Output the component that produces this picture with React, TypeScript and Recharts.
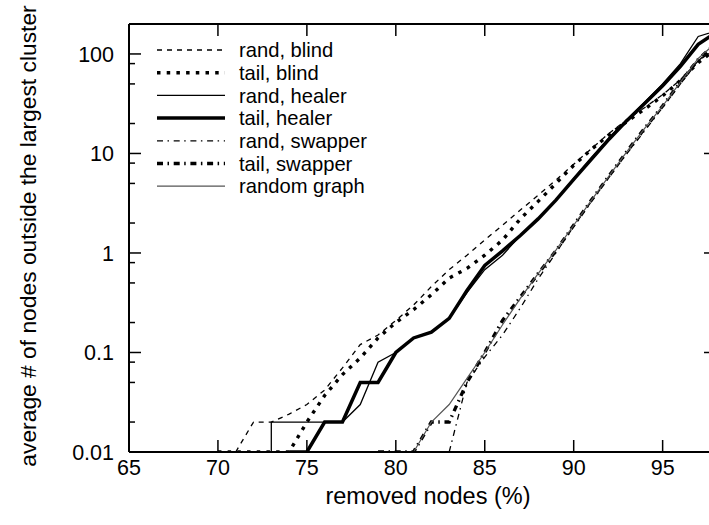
import React from 'react';
import { LineChart, Line, XAxis, YAxis } from 'recharts';

const FONT = '"Liberation Sans", Arial, Helvetica, sans-serif';

const X_TICKS = [65, 70, 75, 80, 85, 90, 95];
const Y_MAJOR = [0.01, 0.1, 1, 10, 100];
const Y_MINOR = [0.02, 0.05, 0.08, 0.2, 0.5, 0.8, 2, 5, 8, 20, 50, 80];
const Y_TICKS = [...Y_MAJOR, ...Y_MINOR].sort((a, b) => a - b);

// [removed %, avg nodes outside the largest cluster]
const randBlind: [number, number][] = [
  [71, 0.01], [72, 0.02], [73, 0.02], [74, 0.024], [75, 0.03], [76, 0.042], [77, 0.07], [78, 0.12],
  [79, 0.15], [80, 0.21], [81, 0.3], [82, 0.46], [83, 0.68], [84, 0.95], [85, 1.35], [86, 1.9],
  [87, 2.7], [88, 3.8], [89, 5.4], [90, 7.8], [91, 11.2], [92, 16], [93, 22], [94, 29], [95, 39],
  [96, 55], [97, 85], [98, 115],
];
const tailBlind: [number, number][] = [
  [70, 0.01], [71, 0.01], [72, 0.01], [73, 0.01], [74, 0.01], [75, 0.02], [76, 0.037], [77, 0.06],
  [78, 0.088], [79, 0.14], [80, 0.2], [81, 0.27], [82, 0.38], [83, 0.56], [84, 0.7], [85, 0.95],
  [86, 1.35], [87, 2.2], [88, 3.3], [89, 5.0], [90, 7.6], [91, 11], [92, 15.5], [93, 21], [94, 28],
  [95, 38], [96, 54], [97, 82], [98, 112],
];
const randHealer: [number, number][] = [
  [73, 0.01], [73, 0.02], [74, 0.02], [75, 0.02], [76, 0.02], [77, 0.02], [78, 0.03], [79, 0.08],
  [80, 0.1], [81, 0.14], [82, 0.16], [83, 0.22], [84, 0.4], [85, 0.68], [86, 0.95], [87, 1.5],
  [88, 2.2], [89, 3.4], [90, 5.6], [91, 9], [92, 14.5], [93, 22], [94, 33], [95, 50], [96, 80],
  [97, 150], [98, 170],
];
const tailHealer: [number, number][] = [
  [74, 0.01], [75, 0.01], [76, 0.02], [77, 0.02], [78, 0.05], [79, 0.05], [80, 0.1], [81, 0.14],
  [82, 0.16], [83, 0.22], [84, 0.42], [85, 0.75], [86, 1.05], [87, 1.5], [88, 2.2], [89, 3.4],
  [90, 5.5], [91, 8.8], [92, 14], [93, 21.5], [94, 32], [95, 48], [96, 75], [97, 125], [98, 165],
];
const randSwapper: [number, number][] = [
  [83, 0.01], [84, 0.05], [85, 0.09], [86, 0.15], [87, 0.28], [88, 0.55], [89, 1.0], [90, 1.85],
  [91, 3.3], [92, 5.8], [93, 10], [94, 17], [95, 29], [96, 50], [97, 85], [98, 125],
];
const tailSwapper: [number, number][] = [
  [79, 0.01], [80, 0.01], [81, 0.01], [82, 0.02], [83, 0.02], [84, 0.05], [85, 0.1], [86, 0.21],
  [87, 0.36], [88, 0.62], [89, 1.05], [90, 1.9], [91, 3.4], [92, 6], [93, 10.5], [94, 18], [95, 30],
  [96, 52], [97, 88], [98, 128],
];
const randomGraph: [number, number][] = [
  [81, 0.01], [82, 0.02], [83, 0.03], [84, 0.055], [85, 0.1], [86, 0.19], [87, 0.35], [88, 0.62],
  [89, 1.07], [90, 1.9], [91, 3.4], [92, 6], [93, 10.5], [94, 18], [95, 30], [96, 52], [97, 90],
  [98, 130],
];

const toPoints = (arr: [number, number][]) => arr.map(([x, y]) => ({ x, y }));

const SERIES = [
  { name: 'rand, blind', data: randBlind, width: 1.3, dash: '5 5', color: '#000' },
  { name: 'tail, blind', data: tailBlind, width: 3.4, dash: '3.5 6.2', color: '#000' },
  { name: 'rand, healer', data: randHealer, width: 1.3, dash: undefined, color: '#000' },
  { name: 'tail, healer', data: tailHealer, width: 3.5, dash: undefined, color: '#000' },
  { name: 'rand, swapper', data: randSwapper, width: 1.3, dash: '6 4.5 1.5 4.7', color: '#000' },
  { name: 'tail, swapper', data: tailSwapper, width: 3.4, dash: '6 4.5 1.5 4.7', color: '#000' },
  { name: 'random graph', data: randomGraph, width: 1.2, dash: undefined, color: '#555' },
];

const TICK_STROKE = { stroke: '#000', strokeWidth: 1.5 };
const AXIS_LINE = { stroke: '#000', strokeWidth: 2 };

const BottomTick = ({ x, y, payload }: any) => (
  <g>
    <line x1={x} y1={y} x2={x} y2={y - 12} {...TICK_STROKE} />
    <text x={x} y={y + 23} textAnchor="middle" fontSize={21.5} fontFamily={FONT} fill="#000">
      {payload.value}
    </text>
  </g>
);

const TopTick = ({ x, y }: any) => (
  <line x1={x} y1={y} x2={x} y2={y + 12} {...TICK_STROKE} />
);

const LeftTick = ({ x, y, payload }: any) => {
  const major = Y_MAJOR.includes(payload.value);
  return (
    <g>
      <line x1={x} y1={y} x2={x + (major ? 12 : 6)} y2={y} {...TICK_STROKE} />
      {major && (
        <text x={x - 15} y={y} dy="0.36em" textAnchor="end" fontSize={21.5} fontFamily={FONT} fill="#000">
          {String(payload.value)}
        </text>
      )}
    </g>
  );
};

const RightTick = ({ x, y, payload }: any) => {
  const major = Y_MAJOR.includes(payload.value);
  return <line x1={x} y1={y} x2={x - (major ? 12 : 6)} y2={y} {...TICK_STROKE} />;
};

export default function App() {
  return (
    <div
      style={{
        position: 'absolute',
        left: 0,
        top: 0,
        width: 709,
        height: 525,
        overflow: 'hidden',
        background: '#fff',
      }}
    >
      <LineChart width={726} height={525} margin={{ top: 0, right: 0, bottom: 0, left: 0 }}>
        <XAxis
          xAxisId="b"
          type="number"
          dataKey="x"
          domain={[65, 98]}
          ticks={X_TICKS}
          interval={0}
          allowDataOverflow
          height={73}
          tickSize={0}
          tickMargin={0}
          tick={BottomTick}
          axisLine={AXIS_LINE}
        />
        <XAxis
          xAxisId="t"
          orientation="top"
          type="number"
          dataKey="x"
          domain={[65, 98]}
          ticks={X_TICKS}
          interval={0}
          allowDataOverflow
          height={24}
          tickSize={0}
          tickMargin={0}
          tick={TopTick}
          axisLine={AXIS_LINE}
        />
        <YAxis
          yAxisId="l"
          type="number"
          scale="log"
          domain={[0.01, 200]}
          ticks={Y_TICKS}
          interval={0}
          allowDataOverflow
          width={129}
          tickSize={0}
          tickMargin={0}
          tick={LeftTick}
          axisLine={AXIS_LINE}
        />
        <YAxis
          yAxisId="r"
          orientation="right"
          type="number"
          scale="log"
          domain={[0.01, 200]}
          ticks={Y_TICKS}
          interval={0}
          allowDataOverflow
          width={10}
          tickSize={0}
          tickMargin={0}
          tick={RightTick}
          axisLine={AXIS_LINE}
        />
        {SERIES.map((s) => (
          <Line
            key={s.name}
            xAxisId="b"
            yAxisId="l"
            data={toPoints(s.data)}
            dataKey="y"
            name={s.name}
            type="linear"
            stroke={s.color}
            strokeWidth={s.width}
            strokeDasharray={s.dash}
            dot={false}
            activeDot={false}
            isAnimationActive={false}
          />
        ))}
      </LineChart>
      <svg
        width={709}
        height={525}
        style={{ position: 'absolute', left: 0, top: 0, pointerEvents: 'none' }}
        fontFamily={FONT}
        fontSize={23.5}
      >
        {SERIES.map((s, i) => (
          <g key={s.name}>
            <line
              x1={157}
              x2={225}
              y1={50 + i * 22.7}
              y2={50 + i * 22.7}
              stroke={s.color}
              strokeWidth={s.width}
              strokeDasharray={s.dash}
            />
            <text x={239} y={50 + i * 22.7} dy="0.36em" fill="#000" fontSize={20.2}>
              {s.name}
            </text>
          </g>
        ))}
        <text x={428} y={504} textAnchor="middle" fill="#000">
          removed nodes (%)
        </text>
        <text transform="translate(36, 236) rotate(-90)" textAnchor="middle" fill="#000" fontSize={22.8}>
          average # of nodes outside the largest cluster
        </text>
      </svg>
    </div>
  );
}
